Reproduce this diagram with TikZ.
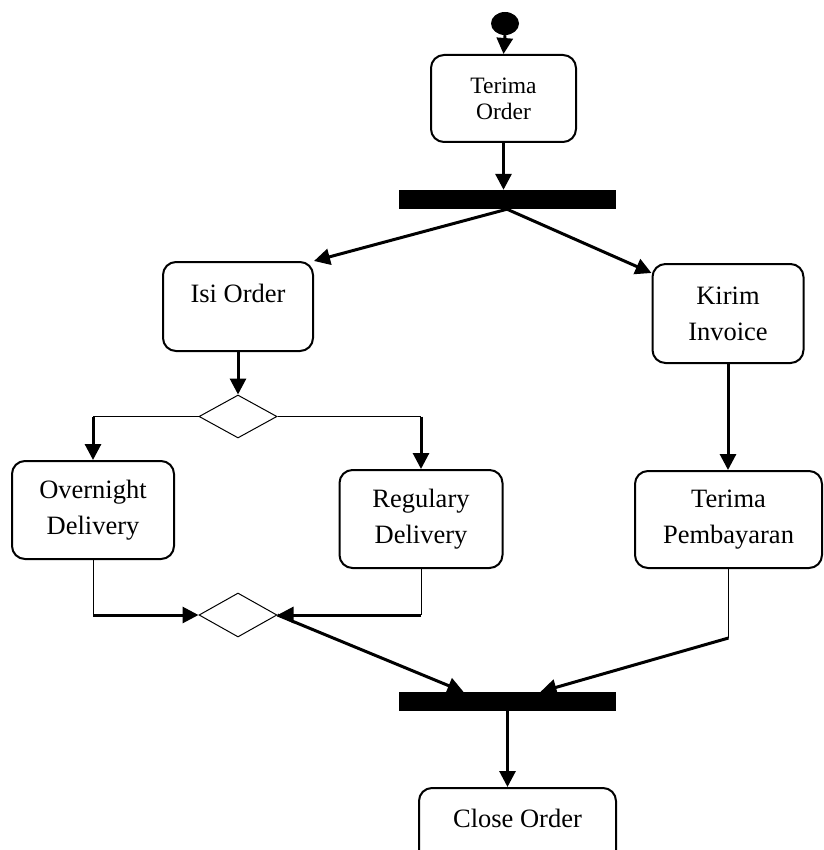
\documentclass[tikz,border=0pt]{standalone}
\usepackage{fontspec}
\setmainfont{Liberation Serif}
\usetikzlibrary{arrows.meta,shapes.geometric}

\begin{document}
\begin{tikzpicture}[x=1pt,y=-1pt,
  aktivitas/.style={draw, line width=2pt, rounded corners=13pt, align=center, inner sep=2pt,
    font=\fontsize{26.5}{36}\selectfont},
  batang/.style={fill=black, inner sep=0pt, minimum width=217pt, minimum height=19pt},
  keputusan/.style={draw, diamond, line width=1pt, inner sep=0pt, minimum width=78pt, minimum height=43pt},
  panah/.style={line width=3pt, -{Triangle[length=16pt,width=16pt]}},
  garis/.style={line width=1pt}]
%\draw[help lines,step=50] (0,0) grid (823,850);
\useasboundingbox (0,0) rectangle (823,850);
\clip (0,0) rectangle (823,850);

% node aktivitas
\node[ellipse, fill=black, inner sep=0pt, minimum width=28pt, minimum height=23pt] (start) at (505,23.5) {};
\node[aktivitas, minimum width=145pt, minimum height=87pt, font=\fontsize{23.5}{26}\selectfont] (terimaorder) at (503.5,98.5) {Terima\\Order};
\node[batang] (forkbar) at (507,199.5) {};
\node[aktivitas, minimum width=150pt, minimum height=89pt, text depth=27pt] (isiorder) at (238,306.5) {Isi Order};
\node[aktivitas, minimum width=151pt, minimum height=99pt] (kiriminvoice) at (728,313.5) {Kirim\\Invoice};
\node[keputusan] (cabang) at (238,416.5) {};
\node[aktivitas, minimum width=162pt, minimum height=98pt] (overnight) at (93,510) {Overnight\\Delivery};
\node[aktivitas, minimum width=163pt, minimum height=98pt] (regulary) at (421,519) {Regulary\\Delivery};
\node[aktivitas, minimum width=187pt, minimum height=97pt] (terimabayar) at (728.5,519.5) {Terima\\Pembayaran};
\node[keputusan, minimum height=44pt] (gabung) at (238,615) {};
\node[batang] (joinbar) at (507.5,701.5) {};
\node[aktivitas, minimum width=197pt, minimum height=80pt, text depth=20pt] (closeorder) at (517.5,828) {Close Order};

% alur
\foreach \dari/\ke in {start.south/terimaorder.north, forkbar.south/isiorder.north east,
    isiorder.south/cabang.north}
  \draw[panah] (\dari) -- (\ke);
\draw[panah] (forkbar.south) -- ([yshift=-10pt]kiriminvoice.north west);
\draw[panah] (terimaorder.south) -- (terimaorder.south |- forkbar.north);
\draw[panah] (kiriminvoice.south) -- (kiriminvoice.south |- terimabayar.north);
\draw[panah] (joinbar.south) -- (joinbar.south |- closeorder.north);

% percabangan
\coordinate (kiri) at (overnight.north |- cabang.west);
\coordinate (kanan) at (regulary.north |- cabang.east);
\draw[garis] (cabang.west) -- (kiri);
\draw[garis] (cabang.east) -- (kanan);
\draw[panah] (kiri) -- (overnight.north);
\draw[panah] (kanan) -- (regulary.north);

% penggabungan
\coordinate (kiribawah) at (overnight.south |- gabung.west);
\coordinate (kananbawah) at (regulary.south |- gabung.east);
\coordinate (belok) at ([yshift=-69pt]terimabayar.south);
\draw[garis] (overnight.south) -- (kiribawah);
\draw[garis] (regulary.south) -- (kananbawah);
\draw[garis] (terimabayar.south) -- (belok);
\draw[panah] (kiribawah) -- (gabung.west);
\draw[panah] (kananbawah) -- (gabung.east);
\draw[panah] (gabung.east) -- ([xshift=-44pt]joinbar.north);
\draw[panah] (belok) -- ([xshift=33pt]joinbar.north);
\end{tikzpicture}
\end{document}
